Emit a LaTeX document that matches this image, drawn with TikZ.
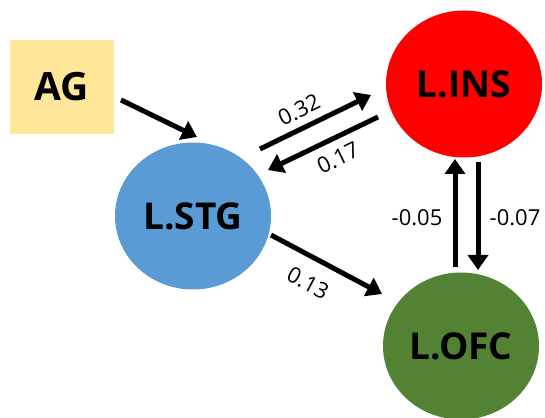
\documentclass[tikz,border=0pt]{standalone}
\usepackage{fontspec}
\setmainfont{Open Sans}
\usetikzlibrary{arrows.meta,shapes.geometric,calc}
\definecolor{agyellow}{HTML}{FFE699}
\definecolor{stgblue}{HTML}{5B9BD5}
\definecolor{insred}{HTML}{FF0000}
\definecolor{ofcgreen}{HTML}{548235}
\begin{document}
\begin{tikzpicture}[x=1pt,y=1pt,
  region/.style={ellipse, minimum width=156pt, minimum height=147pt, inner sep=0pt,
    font=\fontsize{37}{40}\selectfont\bfseries},
  link/.style={line width=5pt, -{Triangle[length=15pt,width=20pt]}},
  weight/.style={font=\fontsize{22}{24}\selectfont, inner sep=0pt}]
\useasboundingbox (0,0) rectangle (545,417);
\node[fill=agyellow, minimum width=104pt, minimum height=94pt, inner sep=0pt,
      font=\fontsize{39}{42}\selectfont\bfseries] (ag) at (62,330) {AG};
\node[region, fill=stgblue] (stg) at (193,201) {L.STG};
\node[region, fill=insred] (ins) at (464,333) {L.INS};
\node[region, fill=ofcgreen] (ofc) at (461,71) {L.OFC};
\draw[link] ($(ag)+(59,-13)$) -- ($(stg)+(4,79)$);
\draw[link] ($(stg)+(67,67)$) -- ($(ins)+(-93,-11)$);
\draw[link] ($(ins)+(-86,-33)$) -- ($(stg)+(75,46)$);
\draw[link] ($(ofc)+(-6,79)$) -- ($(ins)+(-9,-75)$);
\draw[link] ($(ins)+(14,-78)$) -- ($(ofc)+(17,76)$);
\draw[link] ($(stg)+(78,-19)$) -- ($(ofc)+(-79,52)$);
\node[weight, rotate=26] (w1) at (299,307) {0.32};
\node[weight, rotate=26] (w2) at (338,259) {0.17};
\node[weight, rotate=-28] (w3) at (308,134) {0.13};
\node[weight] (w4) at (417,199) {-0.05};
\node[weight] (w5) at (515,199) {-0.07};
\end{tikzpicture}
\end{document}
